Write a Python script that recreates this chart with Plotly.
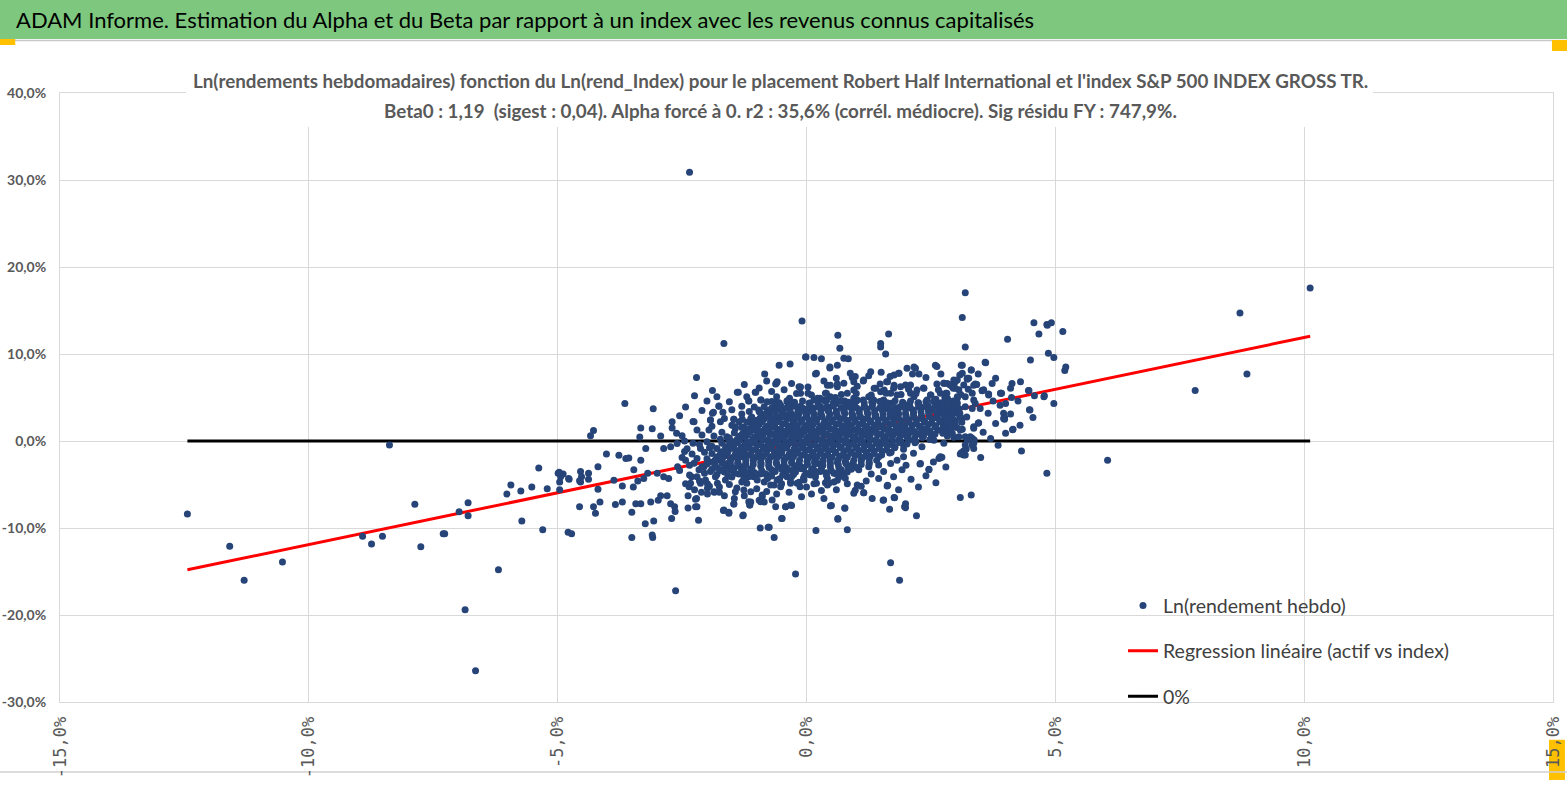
import plotly.graph_objects as go

# weekly log-returns in percent: (index, asset)
outlier_pts = [
    (-12.44, -8.4), (-11.59, -12.1), (-11.3, -16.0), (-10.53, -13.9), (-8.38, -0.46),
    (-8.92, -10.95), (-8.74, -11.84), (-8.52, -10.95), (-7.87, -7.28), (-7.75, -12.15),
    (-7.3, -10.65), (-7.27, -10.65), (-6.98, -8.12), (-6.8, -7.09), (-6.8, -8.6),
    (-6.86, -19.4), (-6.65, -26.4), (-6.19, -14.8), (-6.02, -6.1), (-5.94, -5.06),
    (-5.74, -5.75), (-5.72, -9.2), (-5.52, -5.3), (-5.38, -3.1), (-5.3, -10.2),
    (-5.21, -5.5), (-4.99, -3.7), (-4.96, -4.7), (-4.94, -4.1), (-4.89, -3.8),
    (-4.96, -5.6), (-4.78, -4.3), (-4.79, -10.5), (-4.72, -10.65), (-4.56, -7.55),
    (-4.54, -3.5), (-4.52, -4.1), (-4.56, -4.56), (-4.38, -3.7), (-4.38, -4.4),
    (-4.34, 0.6), (-4.28, 1.2), (-4.28, -7.55), (-4.24, -8.3), (-4.19, -2.95),
    (-4.19, -5.55), (-4.15, -7.0), (-4.77, -4.4), (-4.54, -4.7), (-4.97, -3.6),
    (-2.35, 30.9), (-2.63, -17.2), (-0.22, -15.3), (1.69, -14.0), (1.87, -16.0),
    (0.19, -10.3), (0.82, -10.2), (0.63, -9.0), (-3.09, -11.1),
]

left_pts = [
    (-1.66, 11.2), (-3.65, 4.3), (-3.08, 3.7), (-2.21, 7.3), (-2.25, 5.2), (-1.89, 5.8),
    (-2.43, 3.9), (-3.33, 1.5), (-3.35, 0.46), (-3.1, 1.4), (-2.93, 0.57), (-2.7, 2.2),
    (-2.61, 0.9), (-2.28, 2.25), (-1.93, 2.4), (-1.76, 4.0), (-1.68, 3.3), (-1.87, 3.3),
    (-1.39, 5.6), (-1.46, 2.5), (-1.16, 4.6), (-1.03, 5.6), (-0.84, 7.7), (-0.6, 6.7),
    (-0.55, 8.7), (-0.33, 8.85), (-0.02, 9.65), (-0.91, 4.7), (-0.62, 4.5), (-0.34, 4.9),
    (-0.15, 6.25), (-4.02, -1.5), (-3.77, -1.65), (-3.63, -2.0), (-3.57, -1.95),
    (-3.84, -7.3), (-3.7, -7.0), (-3.51, -8.2), (-3.43, -7.2), (-3.33, -7.2), (-3.24, -9.5),
    (-3.07, -9.2), (-3.1, -10.8), (-3.51, -11.1), (-3.13, -7.0), (-2.98, -6.8), (-2.93, -6.3),
    (-2.8, -6.3), (-2.73, -7.2), (-2.65, -7.55), (-2.64, -8.1), (-2.71, -8.9), (-2.38, -7.7),
    (-2.38, -6.3), (-2.23, -7.55), (-2.17, -9.1), (-2.21, -6.6), (-2.11, -5.9), (-1.99, -6.1),
    (-1.85, -5.9), (-1.75, -5.9), (-1.67, -8.0), (-1.56, -8.2), (-1.46, -7.25), (-1.27, -8.5),
    (-1.12, -7.0), (-1.14, -7.35), (-0.93, -10.0), (-0.75, -9.9), (-0.65, -11.1), (-0.5, -8.9),
    (-0.3, -7.4), (-0.42, -7.55), (-0.85, -7.0), (-0.89, -6.2), (-0.65, -5.06), (-0.13, -5.25),
    (-3.87, -4.5), (-3.7, -5.17), (-3.48, -5.3), (-3.39, -4.6), (-3.27, -4.3), (-3.19, -3.7),
    (-3.0, -3.7), (-2.87, -4.1), (-2.77, -4.3), (-2.59, -2.95), (-2.43, -4.9), (-2.36, -5.25),
    (-2.31, -4.1), (-2.16, -3.3), (-2.06, -2.95), (-1.99, -4.9), (-3.47, -3.3), (-3.33, -2.2),
    (-3.23, -0.85), (-2.87, -0.85), (-2.73, -0.65), (-2.43, -2.2), (-2.28, -0.26), (-2.13, -0.85),
    (-1.95, -0.77), (-1.79, -2.2), (-1.59, -2.6), (-1.53, -3.3), (-1.33, -2.95), (-1.22, -4.1),
    (-1.12, -3.3), (-1.29, -1.8), (-1.46, -0.85), (-1.56, 0.1), (-1.43, 1.45), (-1.73, 0.2),
    (-1.96, 1.26), (-1.86, 0.57), (-1.22, 1.26), (-1.09, 2.2), (-0.99, 1.26), (-0.79, 1.65),
    (-0.59, 0.9), (-0.92, 3.2), (-0.75, 2.7), (-0.52, 3.55), (-0.32, 3.2), (-0.15, 3.75),
    (-1.06, -4.1), (-0.79, -4.3), (-0.32, -4.7),
]

right_pts = [
    (-0.09, 13.8), (0.63, 12.15), (0.67, 10.65), (1.65, 12.3), (1.49, 11.2), (1.49, 10.8),
    (1.59, 10.0), (3.13, 14.2), (3.19, 10.8), (4.04, 11.7), (4.57, 13.6), (4.67, 12.3),
    (4.83, 13.4), (4.86, 10.1), (4.5, 9.3), (-0.01, 9.65), (0.15, 9.6), (0.3, 9.45),
    (0.75, 9.5), (0.84, 9.45), (0.2, 7.8), (0.47, 8.4), (0.62, 8.7), (0.88, 7.8), (0.98, 7.4),
    (1.29, 7.95), (1.15, 7.0), (1.39, 6.05), (1.63, 6.8), (1.86, 7.8), (2.02, 8.35),
    (2.19, 8.35), (2.26, 7.7), (2.59, 8.7), (2.62, 8.55), (3.13, 8.7), (3.31, 8.15),
    (3.59, 9.05), (3.08, 7.6), (3.23, 7.2), (3.73, 6.6), (4.13, 6.6), (4.1, 6.05), (3.9, 5.5),
    (3.56, 5.9), (3.41, 6.5), (4.47, 5.8), (4.77, 5.1), (4.49, 3.55), (4.55, 2.7), (3.98, 2.7),
    (3.96, 3.2), (4.1, 3.1), (4.15, 1.35), (4.29, 1.8), (4.32, -1.15), (4.83, -3.7),
    (3.36, -0.85), (3.31, -6.2), (3.09, -6.5), (3.16, -1.4), (3.19, -1.6), (3.13, 1.35),
    (3.19, 0.5), (3.29, 0.5), (3.36, 1.65), (3.46, 2.1), (2.69, -1.8), (2.66, -2.0),
    (2.46, -3.3), (2.29, -2.6), (1.92, -3.3), (1.63, -5.1), (1.32, -6.6), (1.15, -5.95),
    (0.95, -6.0), (0.98, -5.65), (1.54, -6.8), (1.76, -6.5), (1.99, -7.2), (1.97, -7.55),
    (1.67, -7.85), (2.21, -8.6), (0.77, -7.7), (0.5, -7.4), (0.63, -8.9), (0.0, -5.3),
    (0.15, -4.9), (0.38, -4.8), (0.42, -5.06), (0.62, -4.5), (0.82, -4.9), (0.55, -3.7),
    (0.72, -3.7), (0.88, -2.95), (1.05, -3.3), (1.25, -2.95), (1.45, -2.75), (1.69, -2.6),
    (1.82, -2.2), (1.95, -1.8), (2.15, -1.4), (2.32, -0.65), (2.56, 0.1), (2.76, -0.26),
    (2.83, 0.57), (2.96, 0.42), (2.86, 1.65), (2.96, 2.4), (3.03, 3.2), (2.93, 3.55),
    (2.83, 2.6), (2.69, 3.2), (2.76, 4.3), (2.59, 4.7), (2.69, 5.5), (2.83, 4.9), (3.03, 4.9),
    (2.93, 6.25), (2.99, 6.8), (2.83, 6.6), (3.06, 5.9),
    (3.19, 17.05), (4.84, 13.3), (4.92, 13.6), (5.15, 12.6), (4.97, 9.6), (5.21, 8.5),
    (5.19, 8.1), (3.92, 5.5), (3.89, 4.1), (3.98, 2.5), (4.12, 5.0), (4.46, 5.8), (4.58, 5.2),
    (4.78, 5.2), (4.48, 3.6), (4.97, 4.3), (4.14, 1.3), (6.05, -2.2), (7.81, 5.8),
    (8.71, 14.7), (8.85, 7.7), (10.12, 17.6),
    (2.96, 7.01), (2.89, 6.44), (2.76, 6.63), (2.99, 6.05), (2.82, 5.48), (3.03, 5.1),
    (3.19, 5.1), (3.33, 5.48), (3.36, 4.71), (3.39, 4.33), (3.49, 3.75), (3.33, 3.75),
    (3.19, 3.95), (3.03, 4.33), (2.89, 4.52), (2.76, 4.33), (2.69, 3.56), (2.82, 3.18),
    (2.96, 3.37), (3.09, 2.8), (2.89, 2.22), (2.76, 2.03), (2.96, 1.65), (2.82, 1.26),
    (3.09, 1.26), (2.93, 0.88), (3.06, 0.5), (3.23, 0.11), (3.33, 0.31), (3.36, -0.27),
    (3.11, -1.34), (3.16, -1.61), (3.21, -0.92), (2.69, -1.92), (3.45, 2.03), (3.36, 1.46),
    (3.31, 8.16), (3.11, 8.7), (3.13, 7.8), (3.23, 7.1), (3.36, 6.4), (3.42, 6.5), (3.53, 5.8),
    (3.66, 5.3),
    (2.42, 4.71), (2.52, 3.56), (2.29, 3.95), (2.16, 5.1), (2.22, 5.86), (2.09, 6.44),
    (1.89, 6.25), (1.82, 5.29), (1.95, 4.33), (1.79, 3.18), (1.62, 3.75), (1.55, 4.71),
    (1.69, 5.48), (1.49, 5.67), (1.35, 4.71), (1.25, 5.1), (1.02, 4.71), (0.95, 5.86),
    (0.82, 5.48), (0.75, 6.63), (0.62, 6.25), (0.48, 5.1), (0.35, 4.71), (0.28, 3.95),
    (0.15, 4.71), (0.08, 3.56),
]

extra_pts = [
    (0.18, 7.7), (0.47, 8.5), (0.92, 7.3), (1.02, 6.3), (1.14, 6.9), (1.36, 6.05), (1.48, 6.55),
    (1.56, 5.85), (1.61, 6.8), (1.68, 7.4), (1.76, 7.6), (1.85, 7.8), (1.76, 6.4), (2.16, 8.5),
    (2.13, 7.7), (3.6, 9.0), (-0.62, 6.55), (-0.59, 6.8), (-1.37, 5.6), (-1.02, 5.6),
    (-1.16, 4.6), (-0.92, 4.7), (-0.79, 4.5), (-0.62, 4.4), (-0.39, 4.5), (-0.12, 6.2),
    (-0.12, 5.5), (0.03, 6.2), (0.03, 5.5), (0.21, 4.7), (0.27, 4.9), (0.38, 5.5), (0.42, 6.4),
    (0.48, 6.4), (0.62, 6.55), (1.99, 6.44), (2.09, 5.48), (2.36, 6.05), (2.49, 5.29),
    (2.62, 6.55), (2.76, 6.63), (2.89, 6.44), (3.03, 7.01), (3.16, 6.44), (3.26, 7.2),
    (3.39, 6.55), (3.53, 5.79), (3.66, 5.4), (3.9, 5.48), (3.96, 2.6),
    (-1.46, 2.49), (-1.29, 2.49), (-1.12, 2.6), (-0.96, 3.56), (-1.43, 1.65), (-1.26, 1.57),
    (-1.73, 2.22), (-1.93, 2.41), (-1.89, 3.18), (-1.76, 4.02), (-2.26, 2.22), (-2.2, 1.26),
    (-2.23, -6.7), (-2.2, -7.55), (-2.33, -4.87), (-2.13, -4.87), (-1.99, -5.44), (-1.86, -5.82),
    (-1.79, -4.87), (-1.66, -7.93), (-1.56, -8.31), (-1.46, -7.24), (-1.28, -8.58),
    (-1.43, -5.82), (-1.26, -5.63), (-1.12, -5.82), (-1.16, -6.97), (-1.14, -7.36),
    (-0.92, -6.97), (-0.89, -6.4), (-0.69, -6.78), (-0.62, -7.55), (-0.42, -7.55),
    (-0.32, -7.36), (-0.77, -9.9), (-0.49, -8.9), (0.48, -7.47), (0.77, -7.74), (0.45, -4.87),
    (0.78, -4.29), (1.02, -5.06), (1.15, -5.94), (1.55, -6.78), (1.62, -5.17), (1.77, -6.51),
    (1.99, -7.66), (2.28, -2.64), (2.46, -3.26), (2.68, -1.88), (2.72, -1.88), (3.09, -1.49),
    (3.16, -1.11), (3.19, -0.46), (3.33, -0.46), (3.37, 0.11),
    (-2.26, -2.57), (-2.1, -2.95), (-1.93, -3.52), (-1.73, -3.33), (-1.53, -2.76),
    (-1.33, -3.72), (-1.16, -4.1), (-0.99, -4.48), (-0.79, -3.91), (-0.59, -4.48),
    (-0.39, -4.1), (-0.19, -4.87), (-0.05, -4.48), (-2.2, -4.1), (-2.03, -4.48), (-1.83, -4.1),
    (-1.63, -4.48), (-0.72, -5.06), (-0.52, -5.25), (-0.32, -4.87), (-0.12, -3.14),
    (0.08, -3.91), (0.28, -3.52), (0.21, -2.57),
    (-2.4, -0.9), (-2.3, -1.5), (-2.2, -2.0), (-2.05, -1.3), (-1.95, -2.4), (-2.35, -2.8),
    (-2.5, -1.9), (-2.15, -0.4), (-2.0, -0.1), (-1.9, -0.6), (-2.1, 0.7), (-1.9, 1.7),
    (-1.7, 1.0), (-1.6, 0.5), (-1.5, 1.8), (-1.65, 2.6), (-1.35, 2.2), (-1.3, 3.1),
    (-1.15, 3.4), (-1.05, 3.9),
]

# ragged fringe of the cloud
fringe_pts = [
    (-2.55, -3.4), (-2.45, -1.2), (-2.6, -0.3), (-2.5, 0.6), (-2.35, -3.9), (-2.25, -5.6),
    (-2.05, -3.7), (-2.15, -4.6), (-1.95, -5.2), (-1.75, -5.3), (-1.55, -5.0), (-1.4, -5.4),
    (-1.3, -4.7), (-1.65, -6.3), (-1.45, -6.6), (-1.25, -6.3), (-1.0, -5.5), (-0.8, -5.8),
    (-0.95, -6.8), (-0.6, -6.1), (-0.35, -5.9), (-0.1, -6.4), (0.1, -6.1), (0.3, -5.7),
    (0.6, -5.6), (0.35, -6.6),
    (1.3, -3.8), (1.55, -3.5), (1.75, -4.1), (2.0, -2.8), (2.1, -4.4), (2.4, -4.0), (2.55, -2.4),
    (2.8, -3.0), (1.2, -4.6), (1.45, -4.3), (2.25, -5.3), (2.6, -4.8), (1.85, -5.6), (1.1, -5.2),
    (-2.0, 4.6), (-1.8, 5.1), (-1.55, 4.5), (-1.3, 4.0), (-1.5, 3.6), (-2.1, 3.5), (-1.2, 5.1),
    (-0.95, 6.1), (-0.7, 5.7), (-0.45, 5.9), (-0.3, 6.6), (-0.8, 6.9), (-1.25, 6.5),
    (-2.55, 2.9), (-2.7, 1.5), (-2.45, 0.0),
    (0.35, 6.9), (0.6, 7.2), (0.95, 6.8), (1.25, 7.5), (1.5, 7.9), (2.4, 7.3), (2.7, 7.7),
    (3.45, 7.7), (3.8, 7.2), (4.3, 6.8), (3.75, 4.6), (4.0, 4.3), (4.25, 4.6), (3.65, 3.2),
    (3.8, 2.0), (3.55, 1.0), (3.7, 0.3), (3.85, -0.5), (4.0, 0.9), (3.5, -1.9),
]

core_pts = [
    (-0.6, 5.1), (-0.35, 4.7), (0.22, 4.9), (0.41, 4.7), (0.58, 5.0), (0.77, 4.6), (0.95, 4.9),
    (1.14, 4.7), (1.3, 5.1), (1.52, 4.6), (2.6, 4.8), (2.78, 5.0), (2.95, 4.6),
    (-0.52, 4.1), (-0.31, 4.3), (-0.12, 4.0), (0.05, 4.35), (0.24, 4.15), (0.43, 3.95), (0.6, 4.3),
    (0.79, 4.1), (0.97, 4.4), (1.16, 4.0), (1.33, 4.25), (1.51, 4.1), (1.7, 4.35), (1.88, 3.95),
    (2.07, 4.2), (2.25, 4.4), (2.44, 4.05), (2.61, 4.3), (2.8, 4.1), (2.98, 4.25),
    (-0.78, 3.5), (-0.63, 3.7), (-0.47, 3.55), (-0.33, 3.75), (-0.17, 3.45), (-0.02, 3.65),
    (0.14, 3.8), (0.29, 3.5), (0.45, 3.7), (0.6, 3.45), (0.76, 3.65), (0.9, 3.8), (1.06, 3.55),
    (1.21, 3.7), (1.37, 3.5), (1.52, 3.75), (1.68, 3.6), (1.83, 3.45), (1.99, 3.7), (2.14, 3.55),
    (2.3, 3.8), (2.45, 3.5), (2.61, 3.65), (2.76, 3.75), (2.92, 3.5), (3.07, 3.7),
    (-0.9, 2.95), (-0.74, 3.1), (-0.6, 2.85), (-0.44, 3.05), (-0.29, 2.9), (-0.15, 3.15),
    (0.01, 2.95), (0.16, 3.05), (0.31, 2.85), (0.47, 3.1), (0.62, 2.9), (0.77, 3.15), (0.93, 2.95),
    (1.08, 2.85), (1.23, 3.1), (1.39, 2.95), (1.54, 3.05), (1.69, 2.85), (1.85, 3.1), (2.0, 2.9),
    (2.15, 3.05), (2.31, 2.95), (2.46, 3.15), (2.62, 2.85), (2.77, 3.0), (2.93, 3.1), (3.08, 2.9),
    (-1.02, 2.35), (-0.86, 2.5), (-0.71, 2.3), (-0.55, 2.45), (-0.4, 2.55), (-0.25, 2.3),
    (-0.09, 2.45), (0.06, 2.35), (0.21, 2.5), (0.37, 2.3), (0.52, 2.45), (0.68, 2.55), (0.83, 2.35),
    (0.98, 2.4), (1.14, 2.5), (1.29, 2.3), (1.44, 2.45), (1.6, 2.35), (1.75, 2.55), (1.91, 2.3),
    (2.06, 2.45), (2.21, 2.4), (2.37, 2.3), (2.52, 2.5), (2.68, 2.35), (2.83, 2.45), (2.98, 2.3),
    (3.12, 2.5),
    (-1.1, 1.75), (-0.95, 1.9), (-0.79, 1.7), (-0.64, 1.85), (-0.48, 1.95), (-0.33, 1.7),
    (-0.18, 1.85), (-0.02, 1.75), (0.13, 1.9), (0.29, 1.7), (0.44, 1.85), (0.59, 1.95), (0.75, 1.75),
    (0.9, 1.8), (1.06, 1.9), (1.21, 1.7), (1.36, 1.85), (1.52, 1.75), (1.67, 1.95), (1.83, 1.7),
    (1.98, 1.85), (2.13, 1.8), (2.29, 1.7), (2.44, 1.9), (2.6, 1.75), (2.75, 1.85), (2.9, 1.7),
    (-1.22, 1.15), (-1.06, 1.3), (-0.91, 1.1), (-0.75, 1.25), (-0.6, 1.35), (-0.45, 1.1),
    (-0.29, 1.25), (-0.14, 1.15), (0.02, 1.3), (0.17, 1.1), (0.33, 1.25), (0.48, 1.35), (0.63, 1.15),
    (0.79, 1.2), (0.94, 1.3), (1.1, 1.1), (1.25, 1.25), (1.4, 1.15), (1.56, 1.35), (1.71, 1.1),
    (1.87, 1.25), (2.02, 1.2), (2.17, 1.1), (2.33, 1.3), (2.48, 1.15), (2.64, 1.25), (2.8, 1.1),
    (-1.35, 0.55), (-1.19, 0.7), (-1.04, 0.5), (-0.88, 0.65), (-0.73, 0.75), (-0.57, 0.5),
    (-0.42, 0.65), (-0.27, 0.55), (-0.11, 0.7), (0.04, 0.5), (0.2, 0.65), (0.35, 0.75), (0.5, 0.55),
    (0.66, 0.6), (0.81, 0.7), (0.97, 0.5), (1.12, 0.65), (1.27, 0.55), (1.43, 0.75), (1.58, 0.5),
    (1.74, 0.65), (1.89, 0.6), (2.04, 0.5), (2.2, 0.7), (2.35, 0.55), (2.51, 0.65),
    (-1.5, -0.05), (-1.34, 0.1), (-1.19, -0.1), (-1.03, 0.05), (-0.88, 0.15), (-0.72, -0.1),
    (-0.57, 0.05), (-0.42, -0.05), (-0.26, 0.1), (-0.11, -0.1), (0.05, 0.05), (0.2, 0.15),
    (0.36, -0.05), (0.51, 0.0), (0.66, 0.1), (0.82, -0.1), (0.97, 0.05), (1.13, -0.05),
    (1.28, 0.15), (1.43, -0.1), (1.59, 0.05), (1.74, 0.0), (1.9, -0.1), (2.05, 0.1), (2.2, -0.05),
    (-1.62, -0.65), (-1.46, -0.5), (-1.31, -0.7), (-1.15, -0.55), (-1.0, -0.45), (-0.84, -0.7),
    (-0.69, -0.55), (-0.54, -0.65), (-0.38, -0.5), (-0.23, -0.7), (-0.07, -0.55), (0.08, -0.45),
    (0.24, -0.65), (0.39, -0.6), (0.54, -0.5), (0.7, -0.7), (0.85, -0.55), (1.01, -0.65),
    (1.16, -0.45), (1.31, -0.7), (1.47, -0.55), (1.62, -0.6), (1.78, -0.7), (1.95, -0.5),
    (-1.72, -1.25), (-1.57, -1.1), (-1.41, -1.3), (-1.26, -1.15), (-1.1, -1.05), (-0.95, -1.3),
    (-0.8, -1.15), (-0.64, -1.25), (-0.49, -1.1), (-0.33, -1.3), (-0.18, -1.15), (-0.02, -1.05),
    (0.13, -1.25), (0.28, -1.2), (0.44, -1.1), (0.59, -1.3), (0.75, -1.15), (0.9, -1.25),
    (1.05, -1.05), (1.21, -1.3), (1.36, -1.15), (1.52, -1.2), (1.7, -1.3),
    (-1.8, -1.85), (-1.64, -1.7), (-1.49, -1.9), (-1.33, -1.75), (-1.18, -1.65), (-1.03, -1.9),
    (-0.87, -1.75), (-0.72, -1.85), (-0.56, -1.7), (-0.41, -1.9), (-0.26, -1.75), (-0.1, -1.65),
    (0.05, -1.85), (0.21, -1.8), (0.36, -1.7), (0.51, -1.9), (0.67, -1.75), (0.82, -1.85),
    (0.98, -1.65), (1.13, -1.9), (1.28, -1.75), (1.45, -1.8),
    (-1.85, -2.35), (-1.69, -2.5), (-1.53, -2.3), (-1.38, -2.45), (-1.22, -2.55), (-1.07, -2.3),
    (-0.92, -2.45), (-0.76, -2.35), (-0.61, -2.5), (-0.45, -2.3), (-0.3, -2.45), (-0.15, -2.55),
    (0.01, -2.35), (0.16, -2.4), (0.32, -2.5), (0.47, -2.3), (0.62, -2.45), (0.78, -2.35),
    (0.93, -2.55), (1.1, -2.3), (1.26, -2.45),
    (-1.8, -3.05), (-1.62, -2.9), (-1.45, -3.1), (-1.27, -2.95), (-1.1, -3.15), (-0.92, -2.9),
    (-0.75, -3.05), (-0.57, -2.95), (-0.4, -3.1), (-0.22, -2.9), (-0.05, -3.05), (0.13, -3.15),
    (0.3, -2.95), (0.48, -3.0), (0.65, -3.1), (0.83, -2.9), (1.0, -3.05),
    (-1.65, -3.55), (-1.45, -3.7), (-1.24, -3.5), (-1.04, -3.65), (-0.83, -3.75), (-0.63, -3.5),
    (-0.42, -3.65), (-0.22, -3.55), (-0.01, -3.7), (0.19, -3.5), (0.4, -3.65), (0.6, -3.75),
    (0.82, -3.55),
    (-1.5, -4.15), (-1.26, -4.3), (-1.02, -4.1), (-0.78, -4.25), (-0.54, -4.35), (-0.3, -4.1),
    (-0.06, -4.25), (0.18, -4.15), (0.42, -4.3), (0.66, -4.1),
    (-1.2, -4.85), (-0.85, -4.7), (-0.5, -4.9), (-0.15, -4.75), (0.2, -4.85), (0.55, -4.7),
]

core_pts_b = [
    (-0.7, 4.55), (-0.55, 4.4), (-0.39, 4.62), (-0.24, 4.46), (-0.08, 4.6), (0.07, 4.38),
    (0.23, 4.5), (0.38, 4.55), (0.54, 4.4), (0.69, 4.62), (0.85, 4.46), (1.0, 4.6), (1.16, 4.38),
    (1.31, 4.5), (1.47, 4.55), (1.62, 4.4), (1.78, 4.62), (1.93, 4.46), (2.09, 4.6), (2.24, 4.38),
    (2.4, 4.5), (2.55, 4.55), (2.71, 4.4), (2.86, 4.62), (3.02, 4.46),
    (-0.85, 3.95), (-0.7, 3.8), (-0.54, 4.02), (-0.39, 3.86), (-0.23, 4.0), (-0.08, 3.78),
    (0.08, 3.9), (0.23, 3.95), (0.39, 3.8), (0.54, 4.02), (0.7, 3.86), (0.85, 4.0), (1.01, 3.78),
    (1.16, 3.9), (1.32, 3.95), (1.47, 3.8), (1.63, 4.02), (1.78, 3.86), (1.94, 4.0), (2.09, 3.78),
    (2.25, 3.9), (2.4, 3.95), (2.56, 3.8), (2.71, 4.02), (2.87, 3.86), (3.02, 4.0),
    (-0.95, 3.35), (-0.8, 3.2), (-0.64, 3.42), (-0.49, 3.26), (-0.33, 3.4), (-0.18, 3.18),
    (-0.02, 3.3), (0.13, 3.35), (0.29, 3.2), (0.44, 3.42), (0.6, 3.26), (0.75, 3.4), (0.91, 3.18),
    (1.06, 3.3), (1.22, 3.35), (1.37, 3.2), (1.53, 3.42), (1.68, 3.26), (1.84, 3.4), (1.99, 3.18),
    (2.15, 3.3), (2.3, 3.35), (2.46, 3.2), (2.61, 3.42), (2.77, 3.26), (2.92, 3.4), (3.08, 3.18),
    (-1.1, 2.75), (-0.94, 2.6), (-0.79, 2.82), (-0.63, 2.66), (-0.48, 2.8), (-0.32, 2.58),
    (-0.17, 2.7), (-0.01, 2.75), (0.14, 2.6), (0.3, 2.82), (0.45, 2.66), (0.61, 2.8), (0.76, 2.58),
    (0.92, 2.7), (1.07, 2.75), (1.23, 2.6), (1.38, 2.82), (1.54, 2.66), (1.69, 2.8), (1.85, 2.58),
    (2.0, 2.7), (2.16, 2.75), (2.31, 2.6), (2.47, 2.82), (2.62, 2.66), (2.78, 2.8), (2.93, 2.58),
    (3.09, 2.7), (3.22, 2.75),
    (-1.2, 2.15), (-1.04, 2.0), (-0.89, 2.22), (-0.73, 2.06), (-0.58, 2.2), (-0.42, 1.98),
    (-0.27, 2.1), (-0.11, 2.15), (0.04, 2.0), (0.2, 2.22), (0.35, 2.06), (0.51, 2.2), (0.66, 1.98),
    (0.82, 2.1), (0.97, 2.15), (1.13, 2.0), (1.28, 2.22), (1.44, 2.06), (1.59, 2.2), (1.75, 1.98),
    (1.9, 2.1), (2.06, 2.15), (2.21, 2.0), (2.37, 2.22), (2.52, 2.06), (2.68, 2.2), (2.83, 1.98),
    (2.99, 2.1), (3.12, 2.15),
    (-1.3, 1.55), (-1.14, 1.4), (-0.99, 1.62), (-0.83, 1.46), (-0.68, 1.6), (-0.52, 1.38),
    (-0.37, 1.5), (-0.21, 1.55), (-0.06, 1.4), (0.1, 1.62), (0.25, 1.46), (0.41, 1.6), (0.56, 1.38),
    (0.72, 1.5), (0.87, 1.55), (1.03, 1.4), (1.18, 1.62), (1.34, 1.46), (1.49, 1.6), (1.65, 1.38),
    (1.8, 1.5), (1.96, 1.55), (2.11, 1.4), (2.27, 1.62), (2.42, 1.46), (2.58, 1.6), (2.73, 1.38),
    (2.89, 1.5), (3.02, 1.55),
    (-1.45, 0.95), (-1.29, 0.8), (-1.14, 1.02), (-0.98, 0.86), (-0.83, 1.0), (-0.67, 0.78),
    (-0.52, 0.9), (-0.36, 0.95), (-0.21, 0.8), (-0.05, 1.02), (0.1, 0.86), (0.26, 1.0), (0.41, 0.78),
    (0.57, 0.9), (0.72, 0.95), (0.88, 0.8), (1.03, 1.02), (1.19, 0.86), (1.34, 1.0), (1.5, 0.78),
    (1.65, 0.9), (1.81, 0.95), (1.96, 0.8), (2.12, 1.02), (2.27, 0.86), (2.43, 1.0), (2.58, 0.78),
    (2.74, 0.9),
    (-1.55, 0.35), (-1.39, 0.2), (-1.24, 0.42), (-1.08, 0.26), (-0.93, 0.4), (-0.77, 0.18),
    (-0.62, 0.3), (-0.46, 0.35), (-0.31, 0.2), (-0.15, 0.42), (0.0, 0.26), (0.16, 0.4), (0.31, 0.18),
    (0.47, 0.3), (0.62, 0.35), (0.78, 0.2), (0.93, 0.42), (1.09, 0.26), (1.24, 0.4), (1.4, 0.18),
    (1.55, 0.3), (1.71, 0.35), (1.86, 0.2), (2.02, 0.42), (2.17, 0.26), (2.33, 0.4), (2.48, 0.18),
    (-1.7, -0.25), (-1.54, -0.4), (-1.39, -0.18), (-1.23, -0.34), (-1.08, -0.2), (-0.92, -0.42),
    (-0.77, -0.3), (-0.61, -0.25), (-0.46, -0.4), (-0.3, -0.18), (-0.15, -0.34), (0.01, -0.2),
    (0.16, -0.42), (0.32, -0.3), (0.47, -0.25), (0.63, -0.4), (0.78, -0.18), (0.94, -0.34),
    (1.09, -0.2), (1.25, -0.42), (1.4, -0.3), (1.56, -0.25), (1.71, -0.4), (1.87, -0.18),
    (2.02, -0.34), (2.18, -0.2),
    (-1.8, -0.85), (-1.64, -1.0), (-1.49, -0.78), (-1.33, -0.94), (-1.18, -0.8), (-1.02, -1.02),
    (-0.87, -0.9), (-0.71, -0.85), (-0.56, -1.0), (-0.4, -0.78), (-0.25, -0.94), (-0.09, -0.8),
    (0.06, -1.02), (0.22, -0.9), (0.37, -0.85), (0.53, -1.0), (0.68, -0.78), (0.84, -0.94),
    (0.99, -0.8), (1.15, -1.02), (1.3, -0.9), (1.46, -0.85), (1.61, -1.0), (1.77, -0.78),
    (1.95, -0.94),
    (-1.9, -1.45), (-1.74, -1.6), (-1.59, -1.38), (-1.43, -1.54), (-1.28, -1.4), (-1.12, -1.62),
    (-0.97, -1.5), (-0.81, -1.45), (-0.66, -1.6), (-0.5, -1.38), (-0.35, -1.54), (-0.19, -1.4),
    (-0.04, -1.62), (0.12, -1.5), (0.27, -1.45), (0.43, -1.6), (0.58, -1.38), (0.74, -1.54),
    (0.89, -1.4), (1.05, -1.62), (1.2, -1.5), (1.36, -1.45), (1.51, -1.6), (1.67, -1.38),
    (-2.0, -2.05), (-1.84, -2.2), (-1.69, -1.98), (-1.53, -2.14), (-1.38, -2.0), (-1.22, -2.22),
    (-1.07, -2.1), (-0.91, -2.05), (-0.76, -2.2), (-0.6, -1.98), (-0.45, -2.14), (-0.29, -2.0),
    (-0.14, -2.22), (0.02, -2.1), (0.17, -2.05), (0.33, -2.2), (0.48, -1.98), (0.64, -2.14),
    (0.79, -2.0), (0.95, -2.22), (1.1, -2.1), (1.26, -2.05), (1.41, -2.2),
    (-2.0, -2.65), (-1.84, -2.8), (-1.69, -2.58), (-1.53, -2.74), (-1.38, -2.6), (-1.22, -2.82),
    (-1.07, -2.7), (-0.91, -2.65), (-0.76, -2.8), (-0.6, -2.58), (-0.45, -2.74), (-0.29, -2.6),
    (-0.14, -2.82), (0.02, -2.7), (0.17, -2.65), (0.33, -2.8), (0.48, -2.58), (0.64, -2.74),
    (0.79, -2.6), (0.95, -2.82), (1.1, -2.7), (1.26, -2.65),
    (-1.9, -3.25), (-1.7, -3.4), (-1.5, -3.18), (-1.3, -3.34), (-1.1, -3.2), (-0.9, -3.42),
    (-0.7, -3.3), (-0.5, -3.25), (-0.3, -3.4), (-0.1, -3.18), (0.1, -3.34), (0.3, -3.2),
    (0.5, -3.42), (0.7, -3.3), (0.9, -3.25),
    (-1.8, -3.85), (-1.58, -4.0), (-1.36, -3.78), (-1.14, -3.94), (-0.92, -3.8), (-0.7, -4.02),
    (-0.48, -3.9), (-0.26, -3.85), (-0.04, -4.0), (0.18, -3.78), (0.4, -3.94), (0.62, -3.8),
    (-0.2, 5.45), (0.1, 5.3), (0.4, 5.5), (0.7, 5.35), (1.0, 5.45), (1.3, 5.3), (1.6, 5.5),
    (1.9, 5.35), (2.2, 5.45), (2.5, 5.3), (2.8, 5.5), (3.1, 5.35),
    (1.75, 6.05), (2.05, 5.95), (2.35, 6.1), (2.65, 5.9), (2.95, 6.05), (3.25, 5.95),
]

beta0 = 1.19
x_ticks = [-0.15, -0.10, -0.05, 0.0, 0.05, 0.10, 0.15]
y_ticks = [-0.30, -0.20, -0.10, 0.0, 0.10, 0.20, 0.30, 0.40]

header = "ADAM Informe. Estimation du Alpha et du Beta par rapport à un index avec les revenus connus capitalisés"
title_1 = ("Ln(rendements hebdomadaires) fonction du Ln(rend_Index) pour le placement "
           "Robert Half International et l'index S&P 500 INDEX GROSS TR.")
title_2 = ("Beta0 : 1,19  (sigest : 0,04). Alpha forcé à 0. r2 : 35,6% (corrél. médiocre). "
           "Sig résidu FY : 747,9%.")


def pct_label(v):
    return f"{v * 100:.1f}%".replace(".", ",")


all_pts = outlier_pts + left_pts + right_pts + extra_pts + fringe_pts + core_pts + core_pts_b
idx_ret = [p[0] / 100 for p in all_pts]
asset_ret = [p[1] / 100 for p in all_pts]
x_lo, x_hi = min(idx_ret), max(idx_ret)

FONT = "Lato, Open Sans, sans-serif"
GREY = "#595959"

fig = go.Figure()
fig.add_trace(go.Scatter(x=[x_lo, x_hi], y=[0, 0], mode="lines", name="0%",
                         line=dict(color="black", width=3), legendrank=3, legendgroup="c"))
fig.add_trace(go.Scatter(x=[x_lo, x_hi], y=[beta0 * x_lo, beta0 * x_hi], mode="lines",
                         name="Regression linéaire (actif vs index)",
                         line=dict(color="#FF0000", width=3), legendrank=2, legendgroup="b"))
fig.add_trace(go.Scatter(x=idx_ret, y=asset_ret, mode="markers", name="Ln(rendement hebdo)",
                         marker=dict(color="#264478", size=7), legendrank=1, legendgroup="a"))

fig.update_layout(
    width=1567, height=787,
    margin=dict(l=60, r=14, t=93, b=85),
    paper_bgcolor="white", plot_bgcolor="white",
    font=dict(family=FONT, color=GREY),
    xaxis=dict(range=[-0.15, 0.15], tickvals=x_ticks, ticktext=[pct_label(v) for v in x_ticks],
               tickangle=-90, gridcolor="#D9D9D9", showline=True, linecolor="#D9D9D9",
               mirror=True, zeroline=False, ticks="", automargin=False, ticklabelstandoff=7,
               tickfont=dict(family="DejaVu Sans Mono", size=17, color=GREY)),
    yaxis=dict(range=[-0.30, 0.40], tickvals=y_ticks, ticktext=[pct_label(v) for v in y_ticks],
               gridcolor="#D9D9D9", showline=True, linecolor="#D9D9D9", mirror=True,
               zeroline=False, ticks="", automargin=False, ticklabelstandoff=10,
               tickfont=dict(family=FONT, size=14, color=GREY, weight="bold")),
    legend=dict(x=0.712, y=0.19, xanchor="left", yanchor="top",
                bgcolor="rgba(0,0,0,0)", tracegroupgap=17,
                font=dict(family=FONT, size=19.5, color="#404040")),
    shapes=[
        dict(type="rect", xref="paper", yref="paper", x0=-0.05, x1=1.05, y0=1.0887, y1=1.2,
             fillcolor="#7DC87E", line=dict(width=0), layer="above"),
        dict(type="line", xref="paper", yref="paper", x0=-0.05, x1=1.05, y0=1.0862, y1=1.0862,
             line=dict(color="#C8C8C8", width=1.5)),
        dict(type="rect", xref="paper", yref="paper", x0=0.0844, x1=0.8794, y0=0.9442, y1=1.05,
             fillcolor="white", line=dict(width=0), layer="above"),
        dict(type="rect", xref="paper", yref="paper", x0=-0.045, x1=-0.030, y0=1.0788, y1=1.0887,
             fillcolor="#FFC000", line=dict(width=0), layer="above"),
        dict(type="rect", xref="paper", yref="paper", x0=0.9993, x1=1.012, y0=1.0690, y1=1.0870,
             fillcolor="#FFC000", line=dict(width=0), layer="above"),
        dict(type="rect", xref="paper", yref="paper", x0=0.9973, x1=1.008, y0=-0.128, y1=-0.062,
             fillcolor="#FFC000", line=dict(width=0), layer="below"),
        dict(type="line", xref="paper", yref="paper", x0=-0.05, x1=1.05, y0=-0.115, y1=-0.115,
             line=dict(color="#D0D0D0", width=1.5), layer="below"),
    ],
    annotations=[
        dict(text=header, xref="paper", yref="paper", x=-0.0308, y=1.1215,
             xanchor="left", yanchor="middle", showarrow=False,
             font=dict(family=FONT, size=22, color="black")),
        dict(text="<b>" + title_1 + "</b>", xref="paper", yref="paper", x=0.4829, y=1.0213,
             xanchor="center", yanchor="middle", showarrow=False,
             font=dict(family=FONT, size=18.8, color=GREY)),
        dict(text="<b>" + title_2 + "</b>", xref="paper", yref="paper", x=0.4829, y=0.972,
             xanchor="center", yanchor="middle", showarrow=False,
             font=dict(family=FONT, size=18.8, color=GREY)),
    ],
)

fig.write_html("out.html", config={"displayModeBar": False},
               post_script="document.body.style.margin='0';")
